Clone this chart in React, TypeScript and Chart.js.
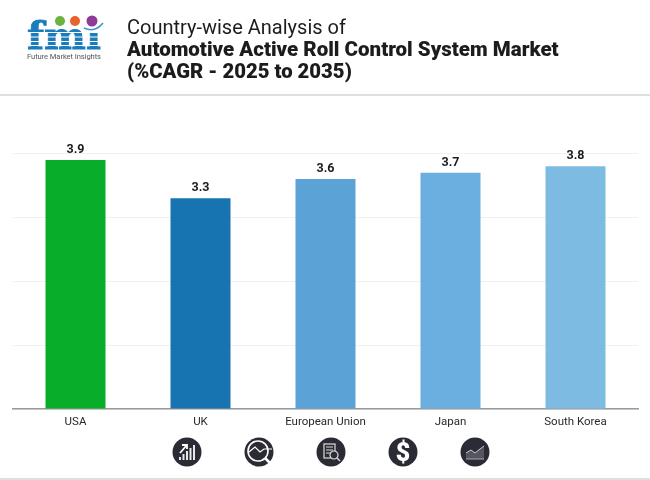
import React, { useEffect, useRef } from "react";
import { Chart, registerables } from "chart.js";

Chart.register(...registerables);

const categories = ["USA", "UK", "European Union", "Japan", "South Korea"];
const cagrValues = [3.9, 3.3, 3.6, 3.7, 3.8];
const barColors = ["#08AE2A", "#1874B0", "#5BA2D6", "#6AAFE0", "#7DBBE3"];
const titleLines = ["Country-wise Analysis of", "Automotive Active Roll Control System Market", "(%CAGR - 2025 to 2035)"];

const valueLabels = {
  id: "valueLabels",
  afterDatasetsDraw(chart: any) {
    const { ctx } = chart;
    const meta = chart.getDatasetMeta(0);
    ctx.save();
    ctx.font = "bold 12.5px Roboto";
    ctx.fillStyle = "#1c1c1c";
    ctx.textAlign = "center";
    ctx.textBaseline = "alphabetic";
    meta.data.forEach((bar: any, i: number) => {
      ctx.fillText(cagrValues[i].toFixed(1), bar.x, bar.y - 7);
    });
    ctx.restore();
  },
};

function Icon({ cx, children }: { cx: number; children: React.ReactNode }) {
  return (
    <g transform={`translate(${cx},452)`}>
      <circle r="14.5" fill="#2b2b35" />
      {children}
    </g>
  );
}

function Decorations() {
  return (
    <svg width="650" height="480" style={{ position: "absolute", left: 0, top: 0, pointerEvents: "none" }}>
      <rect x="0" y="94" width="650" height="2" fill="#dfdfdf" />
      <rect x="0" y="478" width="650" height="2" fill="#dfdfdf" />
      {/* logo */}
      <text x="27" y="49" fontFamily="'DejaVu Serif', 'Liberation Serif'" fontWeight="bold" fontSize="38" fill="#1a7cbb" stroke="#1a7cbb" strokeWidth="0.8" textLength="74" lengthAdjust="spacingAndGlyphs">fmi</text>
      <g fill="#ffffff">
        <rect x="27" y="32" width="75" height="1" />
        <rect x="27" y="36.5" width="75" height="1" />
        <rect x="27" y="41" width="75" height="1" />
        <rect x="27" y="45" width="75" height="1" />
      </g>
      <rect x="87" y="20" width="12" height="12" fill="#fff" />
      <circle cx="60" cy="21" r="5" fill="#6cb33f" />
      <circle cx="75" cy="21" r="5" fill="#e8632b" />
      <circle cx="92" cy="21" r="5.5" fill="#8e3a96" />
      <path d="M84 28 Q95 33 103 23" stroke="#3a95cf" strokeWidth="1.5" fill="none" />
      <text x="27" y="59" fontFamily="Roboto" fontSize="7.6" fill="#55565a" textLength="74">Future Market Insights</text>
      {/* footer icons */}
      <Icon cx={187}>
        <g fill="#e8e8e8">
          <rect x="-8" y="5" width="2" height="3" />
          <rect x="-4.5" y="2" width="2" height="6" />
          <rect x="-1" y="-1" width="2" height="9" />
          <rect x="2.5" y="-4" width="2" height="12" />
          <rect x="6" y="-7" width="2" height="15" />
        </g>
        <path d="M-7 1 L-1 -6 M-5 -7 L0 -7 L0 -3" stroke="#fff" strokeWidth="1.8" fill="none" />
      </Icon>
      <Icon cx={259}>
        <circle cx="-1" cy="-1" r="10" fill="none" stroke="#fff" strokeWidth="1.6" />
        <path d="M-10 0 L-4 -5 L1 0 L5 -3 L13 -3" fill="none" stroke="#fff" strokeWidth="1.2" />
        <path d="M6 6 L13 13" stroke="#fff" strokeWidth="2.6" />
      </Icon>
      <Icon cx={331}>
        <rect x="-7" y="-8" width="11" height="14" fill="none" stroke="#ddd" strokeWidth="1.2" />
        <path d="M-5 -5 H2 M-5 -2 H2 M-5 1 H0" stroke="#ddd" strokeWidth="1" />
        <circle cx="3" cy="3" r="4" fill="#2b2b35" stroke="#ddd" strokeWidth="1.2" />
        <path d="M6 6 L9 9" stroke="#ddd" strokeWidth="1.4" />
      </Icon>
      <Icon cx={403}>
        <text x="0" y="9" textAnchor="middle" fontFamily="Roboto" fontWeight="900" fontSize="25" fill="#ffffff">$</text>
      </Icon>
      <Icon cx={475}>
        <path d="M-9 7 V1 L-4 -2 L0 1 L5 -3 L9 -6 V7 Z" fill="#55555e" />
        <path d="M-9 1 L-4 -2 L0 1 L5 -3 L9 -6" fill="none" stroke="#ccc" strokeWidth="1" />
        <path d="M-9 7 H9" stroke="#aaa" strokeWidth="1" />
      </Icon>
    </svg>
  );
}

export default function App() {
  const ref = useRef<HTMLCanvasElement | null>(null);

  useEffect(() => {
    document.body.style.margin = "0";
    document.body.style.background = "#ffffff";
    const chart = new Chart(ref.current!, {
      type: "bar",
      data: {
        labels: categories,
        datasets: [
          {
            data: cagrValues,
            backgroundColor: barColors,
            categoryPercentage: 1,
            barPercentage: 0.48,
            borderWidth: 0,
          },
        ],
      },
      options: {
        animation: false,
        responsive: false,
        devicePixelRatio: 1,
        layout: { padding: { left: 13, right: 12, top: 153.5, bottom: 51 } },
        plugins: { legend: { display: false }, tooltip: { enabled: false } },
        scales: {
          x: {
            afterFit(scale: any) {
              scale.height = 20;
            },
            grid: { display: false },
            border: { color: "#9a9a9a", width: 1.5 },
            ticks: { color: "#2a2a2a", font: { family: "Roboto", size: 11.5 }, padding: -2, maxRotation: 0 },
          },
          y: {
            min: 0,
            max: 4,
            afterFit(scale: any) {
              scale.width = 0;
            },
            ticks: { stepSize: 1, display: false },
            border: { display: false },
            grid: { color: "#f1f1f1", lineWidth: 1, drawTicks: false },
          },
        },
      },
      plugins: [valueLabels],
    } as any);
    return () => chart.destroy();
  }, []);

  return (
    <div style={{ position: "relative", width: 650, height: 480, overflow: "hidden", background: "#fff" }}>
      <canvas ref={ref} width={650} height={480} style={{ position: "absolute", left: 0, top: 0 }} />
      <Decorations />
      <div style={{ position: "absolute", left: 127, top: 16, fontFamily: "Roboto", fontSize: 20, lineHeight: "22px", color: "#1c1c1c", whiteSpace: "nowrap" }}>
        <div>{titleLines[0]}</div>
        <div style={{ fontWeight: 900, fontSize: 20.5 }}>{titleLines[1]}</div>
        <div style={{ fontWeight: 900, fontSize: 20.3 }}>{titleLines[2]}</div>
      </div>
    </div>
  );
}
